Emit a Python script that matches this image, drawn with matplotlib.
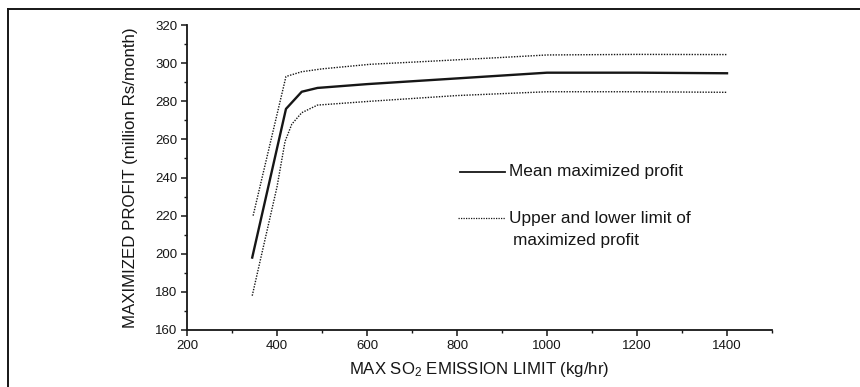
import matplotlib
matplotlib.use("Agg")
import matplotlib.pyplot as plt
from matplotlib.lines import Line2D
from matplotlib.ticker import MultipleLocator

plt.rcParams['font.family'] = ['Liberation Sans', 'DejaVu Sans']
plt.rcParams['mathtext.default'] = 'regular'

# data
mean_x = [345, 420, 455, 490, 600, 700, 800, 900, 1000, 1200, 1400]
mean_y = [198, 276, 285, 287, 289, 290.5, 292, 293.5, 295, 295, 294.7]

upper_x = [347, 420, 455, 500, 607, 740, 900, 1000, 1200, 1400]
upper_y = [220, 293, 295.5, 297, 299.4, 301, 303, 304.3, 304.6, 304.5]

lower_x = [345, 400, 418, 433, 455, 490, 607, 800, 1000, 1200, 1400]
lower_y = [178, 235, 259, 268, 274, 278, 280, 283, 285, 285, 284.7]

ink = '#161616'

fig = plt.figure(figsize=(8.6, 3.87), dpi=100)
ax = fig.add_axes([0.2174, 0.1473, 0.6803, 0.788])

ax.plot(mean_x, mean_y, color=ink, lw=1.7, solid_joinstyle='round')
ax.plot(upper_x, upper_y, color=ink, lw=1.0, linestyle=(0, (1, 1)))
ax.plot(lower_x, lower_y, color=ink, lw=1.0, linestyle=(0, (1, 1)))

ax.set_xlim(200, 1500)
ax.set_ylim(160, 320)
ax.xaxis.set_minor_locator(MultipleLocator(100))
ax.yaxis.set_major_locator(MultipleLocator(20))
ax.yaxis.set_minor_locator(MultipleLocator(10))
ax.set_xticks([200, 400, 600, 800, 1000, 1200, 1400])

for s in ['top', 'right']:
    ax.spines[s].set_visible(False)
for s in ['left', 'bottom']:
    ax.spines[s].set_linewidth(1.3)
    ax.spines[s].set_color(ink)

ax.tick_params(which='major', direction='out', length=4, width=1.1,
               colors=ink, labelsize=9.5, pad=3)
ax.tick_params(which='minor', direction='out', length=2.5, width=1.0, colors=ink)

ax.set_xlabel('MAX SO$_2$ EMISSION LIMIT (kg/hr)', fontsize=12.1, color=ink, labelpad=6)
ax.set_ylabel('MAXIMIZED PROFIT (million Rs/month)', fontsize=12.2, color=ink, labelpad=12)

# hand-placed legend, as in the original
ax.plot([807, 907], [243.1, 243.1], color=ink, lw=1.3)
ax.text(915, 243.1, 'Mean maximized profit', fontsize=12.4, color=ink, va='center')
ax.plot([802, 907], [218.6, 218.6], color=ink, lw=0.9, linestyle=(0, (1, 1)))
ax.text(915, 218.6, 'Upper and lower limit of', fontsize=12.4, color=ink, va='center')
ax.text(924, 207.2, 'maximized profit', fontsize=12.4, color=ink, va='center')

# partial frame around the scan
fig.add_artist(Line2D([0.0093, 1.0], [0.9755, 0.9755], color=ink, lw=1.4))
fig.add_artist(Line2D([0.0093, 0.0093], [0.0, 0.9755], color=ink, lw=1.4))

fig.savefig('out.png', dpi=100)
